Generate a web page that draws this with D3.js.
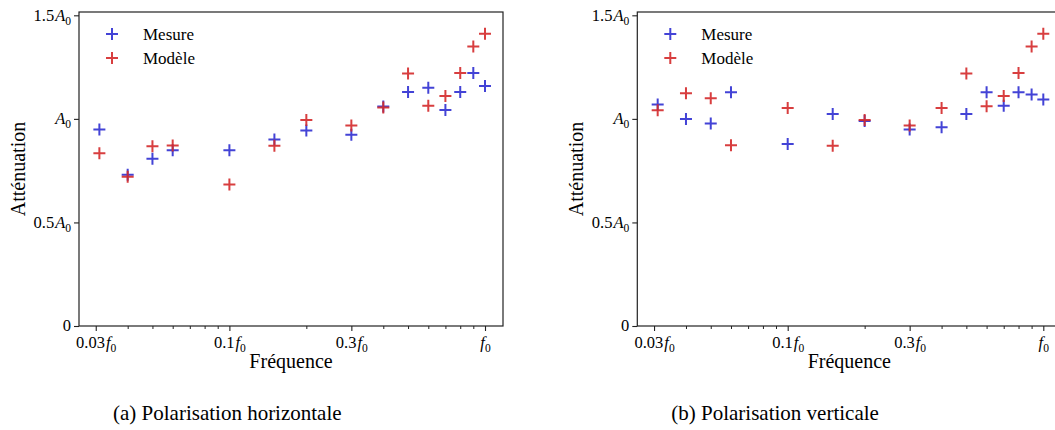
<!DOCTYPE html>
<html>
<head>
<meta charset="utf-8">
<script src="https://cdn.jsdelivr.net/npm/d3@7"></script>
<style>
  body { margin: 0; background: #fff; }
  svg { display: block; }
  svg text { font-family: "Liberation Serif"; }
</style>
</head>
<body>
<svg id="chart"></svg>
<script>
const width = 1055;
const height = 430;

// fréquences (en f0) communes aux deux polarisations
const freqs = [0.031, 0.04, 0.05, 0.06, 0.1, 0.15, 0.2, 0.3, 0.4, 0.5, 0.6, 0.7, 0.8, 0.9, 1.0];

// atténuation (en A0)
const mesureH = [0.949, 0.73, 0.807, 0.849, 0.849, 0.900, 0.944, 0.923, 1.060, 1.130, 1.150, 1.043, 1.130, 1.221, 1.159];
const modeleH = [0.834, 0.72, 0.868, 0.871, 0.683, 0.870, 0.994, 0.968, 1.055, 1.219, 1.063, 1.111, 1.221, 1.350, 1.411];
const mesureV = [1.070, 1.000, 0.978, 1.129, 0.879, 1.024, 0.990, 0.949, 0.960, 1.024, 1.129, 1.063, 1.129, 1.118, 1.094];
const modeleV = [1.042, 1.124, 1.099, 0.873, 1.052, 0.870, 0.995, 0.968, 1.053, 1.219, 1.061, 1.111, 1.221, 1.350, 1.411];

const captions = ['(a) Polarisation horizontale', '(b) Polarisation verticale'];
const seriesNames = ['Mesure', 'Modèle'];
const seriesColors = ['#2f2fd2', '#d42a2b'];

const xTicks = [0.03, 0.1, 0.3, 1];
const xTickLabels = ['0.03f_0', '0.1f_0', '0.3f_0', 'f_0'];
const yTicks = [0, 0.5, 1, 1.5];
const yTickLabels = ['0', '0.5A_0', 'A_0', '1.5A_0'];

const panelW = 424;
const panelTop = 12;
const panelBottom = 326;
const panelLefts = [79, 637.3];

const svg = d3.select('#chart')
    .attr('width', width)
    .attr('height', height);

const x = d3.scaleLog().domain([0.0258, 1.176]).range([0, panelW]);
const y = d3.scaleLinear().domain([0, 1.516]).range([panelBottom - panelTop, 0]);

const minorTicks = x.ticks().filter(t => !xTicks.some(m => Math.abs(m - t) < 1e-9));

// "0.5A_0" -> 0.5 + A italique + indice 0
function mathLabel(sel, label) {
    const m = label.match(/^([\d.]*)([A-Za-z]?)(?:_(\d))?$/);
    sel.text(null);
    if (m[1]) sel.append('tspan').text(m[1]);
    if (m[2]) sel.append('tspan').attr('font-style', 'italic').attr('dx', m[1] ? 1 : 0).text(m[2]);
    if (m[3]) sel.append('tspan').attr('font-size', '0.7em').attr('dy', 4).text(m[3]);
}

function drawPanel(left, mesure, modele, caption) {
    const g = svg.append('g').attr('transform', `translate(${left}, ${panelTop})`);
    const h = panelBottom - panelTop;

    // ticks mineurs
    g.append('g')
        .attr('transform', `translate(0, ${h})`)
        .call(d3.axisBottom(x).tickValues(minorTicks).tickSize(3).tickSizeOuter(0).tickFormat(''))
        .call(a => a.select('.domain').remove())
        .selectAll('line').attr('stroke', '#222').attr('stroke-width', 1);

    const xAxis = g.append('g')
        .attr('transform', `translate(0, ${h})`)
        .call(d3.axisBottom(x).tickValues(xTicks).tickSize(5).tickPadding(5).tickSizeOuter(0).tickFormat(''));
    xAxis.select('.domain').remove();
    xAxis.attr('font-family', null).attr('font-size', 16.5);
    xAxis.selectAll('.tick line').attr('stroke', '#222').attr('stroke-width', 1.1);
    xAxis.selectAll('.tick text').attr('fill', '#000').each(function (d, i) {
        mathLabel(d3.select(this), xTickLabels[i]);
    });

    const yAxis = g.append('g')
        .call(d3.axisLeft(y).tickValues(yTicks).tickSize(5).tickPadding(3).tickSizeOuter(0).tickFormat(''));
    yAxis.select('.domain').remove();
    yAxis.attr('font-family', null).attr('font-size', 16.5);
    yAxis.selectAll('.tick line').attr('stroke', '#222').attr('stroke-width', 1.1);
    yAxis.selectAll('.tick text').attr('fill', '#000').attr('dy', '0.3em').each(function (d, i) {
        mathLabel(d3.select(this), yTickLabels[i]);
    });

    // cadre
    g.append('rect')
        .attr('width', panelW)
        .attr('height', h)
        .attr('fill', 'none')
        .attr('stroke', '#222')
        .attr('stroke-width', 1.2);

    const series = [mesure, modele];
    series.forEach((vals, k) => {
        g.append('g').selectAll('path').data(vals)
            .enter()
            .append('path')
            .attr('transform', (d, i) => `translate(${x(freqs[i])}, ${y(d)})`)
            .attr('d', 'M-6,0H6M0,-6V6')
            .attr('stroke', seriesColors[k])
            .attr('stroke-width', 2)
            .attr('opacity', 0.9);
    });

    // légende
    const legend = g.append('g').attr('transform', 'translate(33, 22)');
    seriesNames.forEach((name, k) => {
        legend.append('path')
            .attr('transform', `translate(0, ${k * 24})`)
            .attr('d', 'M-6,0H6M0,-6V6')
            .attr('stroke', seriesColors[k])
            .attr('stroke-width', 2)
            .attr('opacity', 0.9);
        legend.append('text')
            .attr('x', 31)
            .attr('y', k * 24 + 5.5)
            .attr('font-size', 17)
            .text(name);
    });

    g.append('text')
        .attr('x', panelW / 2)
        .attr('y', 356)
        .attr('text-anchor', 'middle')
        .attr('font-size', 20)
        .text('Fréquence');

    g.append('text')
        .attr('transform', `translate(-54, ${h / 2}) rotate(-90)`)
        .attr('text-anchor', 'middle')
        .attr('font-size', 20)
        .text('Atténuation');

    svg.append('text')
        .attr('x', left + 34)
        .attr('y', 420)
        .attr('font-size', 21)
        .text(caption);
}

drawPanel(panelLefts[0], mesureH, modeleH, captions[0]);
drawPanel(panelLefts[1], mesureV, modeleV, captions[1]);
</script>
</body>
</html>
